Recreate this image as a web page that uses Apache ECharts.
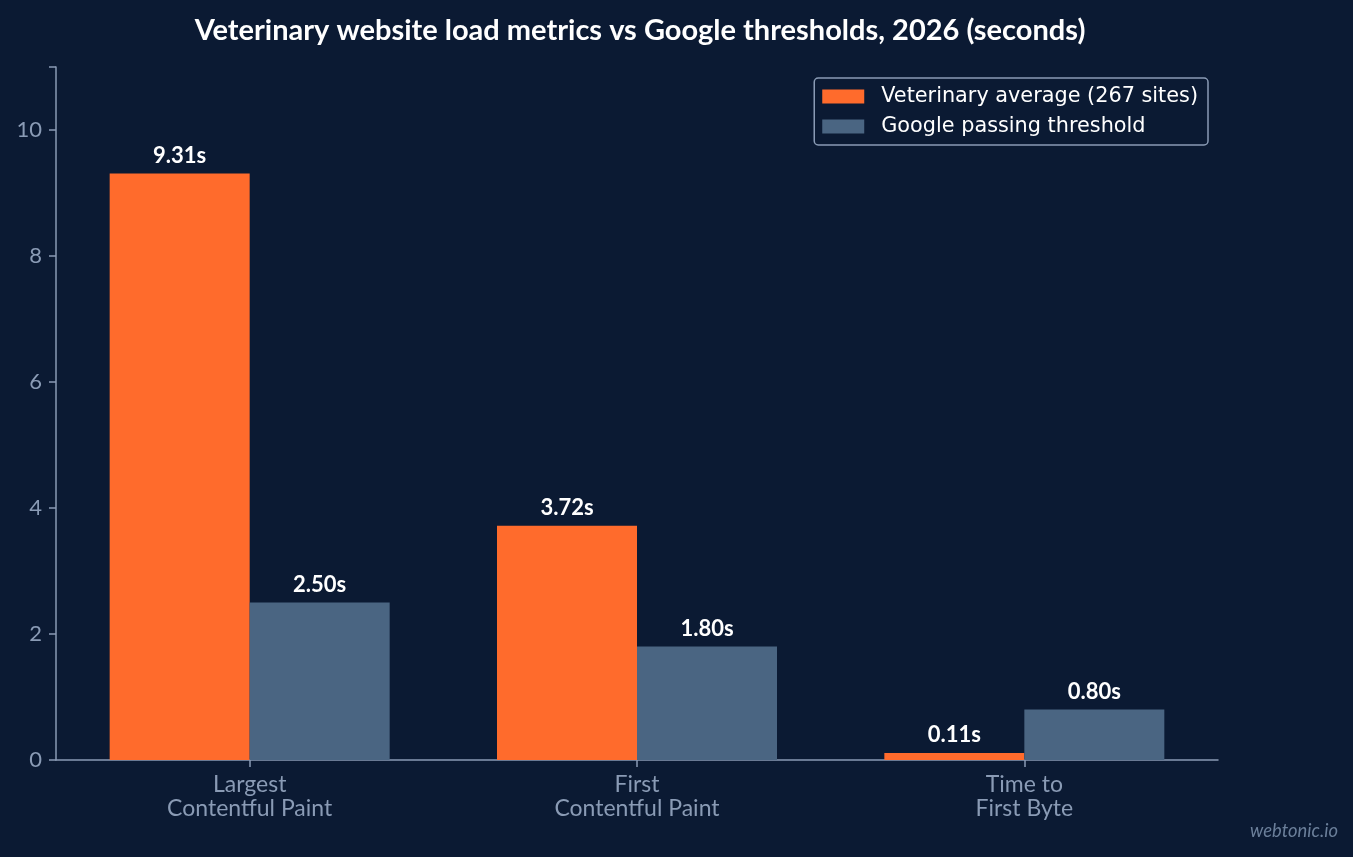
<!DOCTYPE html>
<html><head><meta charset="utf-8">
<script src="https://cdn.jsdelivr.net/npm/echarts@6/dist/echarts.min.js"></script>
<style>html,body{margin:0;padding:0;background:#0b1a33;}#c{width:1353px;height:857px;}</style>
</head><body><div id="c"></div>
<script>
const categories = ['Largest\nContentful Paint', 'First\nContentful Paint', 'Time to\nFirst Byte'];
const vetAverage = [9.31, 3.72, 0.11];
const googleThreshold = [2.50, 1.80, 0.80];
const seriesNames = ['Veterinary average (267 sites)', 'Google passing threshold'];

const chart = echarts.init(document.getElementById('c'));
const axisColor = '#8a9bb5';
const labelStyle = {
  show: true, position: 'top', distance: 7, color: '#ffffff',
  fontFamily: 'Lato', fontWeight: 'bold', fontSize: 22,
  formatter: p => p.value.toFixed(2) + 's'
};
chart.setOption({
  backgroundColor: '#0b1a33',
  title: {
    text: 'Veterinary website load metrics vs Google thresholds, 2026 (seconds)',
    left: 635, top: 11, textAlign: 'center',
    textStyle: { color: '#ffffff', fontFamily: 'Lato', fontWeight: 'bold', fontSize: 29 }
  },
  legend: {
    right: 145, top: 78, orient: 'vertical',
    backgroundColor: '#0b1a33', borderColor: axisColor, borderWidth: 1.5, borderRadius: 4,
    padding: [8, 10, 8, 8], itemWidth: 42, itemHeight: 14, itemGap: 9,
    icon: 'rect',
    textStyle: { color: '#ffffff', fontFamily: 'DejaVu Sans', fontSize: 20.8, lineHeight: 21, padding: [0, 0, 0, 12] },
    data: seriesNames
  },
  grid: { left: 56, right: 135, top: 67, bottom: 97, containLabel: false },
  xAxis: {
    type: 'category', data: categories,
    axisLine: { lineStyle: { color: axisColor, width: 1.5 } },
    axisTick: { show: true, alignWithLabel: true, length: 7, lineStyle: { color: axisColor, width: 1.5 } },
    axisLabel: { color: axisColor, fontFamily: 'Lato', fontSize: 23, lineHeight: 24, margin: 13 }
  },
  yAxis: {
    type: 'value', min: 0, max: 11, interval: 2,
    axisLine: { show: true, lineStyle: { color: axisColor, width: 1.5 } },
    axisTick: { show: true, length: 7, lineStyle: { color: axisColor, width: 1.5 } },
    splitLine: { show: false },
    axisLabel: { color: axisColor, fontFamily: 'Lato', fontSize: 22, margin: 14,
      formatter: v => (v > 10 ? '' : v) }
  },
  series: [
    { name: seriesNames[0], type: 'bar', data: vetAverage, barWidth: 140, barGap: '0%',
      itemStyle: { color: '#ff6b2c' }, label: labelStyle },
    { name: seriesNames[1], type: 'bar', data: googleThreshold, barWidth: 140,
      itemStyle: { color: '#4a6582' }, label: labelStyle }
  ],
  graphic: [{
    type: 'text', right: 15, top: 822,
    style: { text: 'webtonic.io', fill: '#6b7f9a', fontFamily: 'Lato', fontStyle: 'italic', fontSize: 18.4 }
  }]
});
</script></body></html>
